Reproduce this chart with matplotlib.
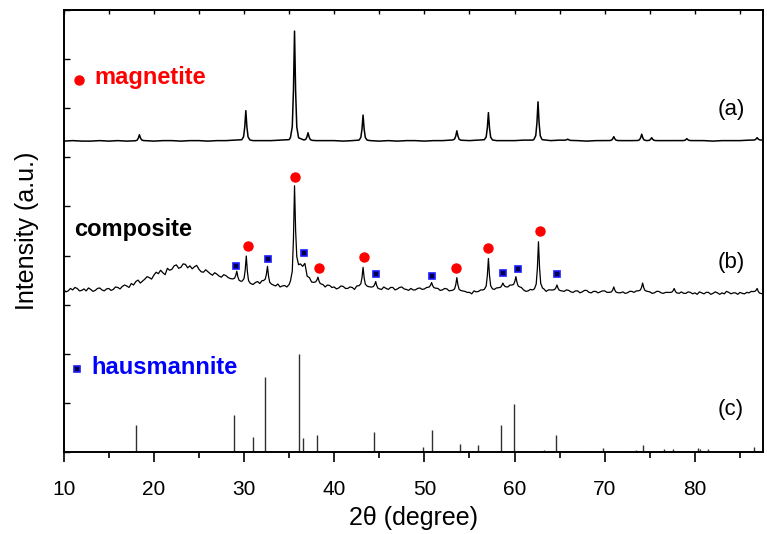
import numpy as np
import matplotlib
matplotlib.use('Agg')
import matplotlib.pyplot as plt
from matplotlib.ticker import MultipleLocator, NullFormatter

plt.rcParams['font.family'] = ['Liberation Sans', 'DejaVu Sans']

# (a) magnetite pattern: background every 1 deg from 10 to 87, then peaks (2theta, top)
bg_a = [6.33, 6.34, 6.33, 6.33, 6.34, 6.33, 6.34, 6.33, 6.34, 6.34,
        6.33, 6.34, 6.34, 6.33, 6.34, 6.34, 6.33, 6.34, 6.34, 6.35,
        6.35, 6.34, 6.34, 6.34, 6.35, 6.36, 6.36, 6.35, 6.34, 6.34,
        6.34, 6.33, 6.34, 6.35, 6.34, 6.33, 6.34, 6.33, 6.34, 6.34,
        6.33, 6.34, 6.34, 6.35, 6.34, 6.34, 6.35, 6.35, 6.34, 6.34,
        6.34, 6.35, 6.35, 6.35, 6.34, 6.35, 6.34, 6.34, 6.33, 6.34,
        6.34, 6.35, 6.34, 6.34, 6.35, 6.35, 6.34, 6.34, 6.34, 6.35,
        6.34, 6.34, 6.33, 6.34, 6.34, 6.34, 6.35, 6.35]
pk_a_pos = [18.4, 30.2, 35.6, 37.1, 43.2, 53.6, 57.1, 62.6, 65.9, 71.0, 74.1, 75.2, 79.1, 86.9]
pk_a_top = [6.46, 6.95, 8.57, 6.50, 6.86, 6.54, 6.91, 7.13, 6.37, 6.42, 6.47, 6.40, 6.38, 6.40]

# (b) composite pattern: background every 0.25 deg from 10 to 87.75
bg_b = [3.31, 3.26, 3.28, 3.33, 3.30, 3.35, 3.33, 3.28, 3.29, 3.32,
        3.28, 3.34, 3.31, 3.27, 3.29, 3.33, 3.34, 3.30, 3.28, 3.32,
        3.33, 3.29, 3.31, 3.36, 3.35, 3.32, 3.37, 3.40, 3.38, 3.35,
        3.43, 3.40, 3.47, 3.50, 3.44, 3.48, 3.52, 3.57, 3.55, 3.52,
        3.60, 3.66, 3.63, 3.70, 3.65, 3.61, 3.74, 3.70, 3.72, 3.79,
        3.81, 3.74, 3.76, 3.83, 3.82, 3.75, 3.79, 3.73, 3.77, 3.80,
        3.72, 3.67, 3.66, 3.71, 3.67, 3.63, 3.60, 3.65, 3.62, 3.58,
        3.56, 3.61, 3.59, 3.55, 3.53, 3.58, 3.56, 3.49, 3.50, 3.54,
        3.52, 3.50, 3.46, 3.43, 3.41, 3.45, 3.47, 3.43, 3.49, 3.52,
        3.55, 3.50, 3.43, 3.40, 3.38, 3.42, 3.36, 3.38, 3.39, 3.36,
        3.41, 3.38, 3.45, 3.60, 3.80, 3.83, 3.78, 3.84, 3.58, 3.55,
        3.46, 3.43, 3.48, 3.50, 3.45, 3.41, 3.36, 3.40, 3.39, 3.35,
        3.36, 3.32, 3.34, 3.38, 3.37, 3.33, 3.33, 3.36, 3.35, 3.31,
        3.38, 3.34, 3.35, 3.40, 3.40, 3.37, 3.36, 3.33, 3.42, 3.44,
        3.34, 3.31, 3.36, 3.33, 3.31, 3.35, 3.35, 3.30, 3.32, 3.35,
        3.36, 3.32, 3.31, 3.29, 3.33, 3.30, 3.30, 3.33, 3.34, 3.31,
        3.32, 3.35, 3.36, 3.38, 3.40, 3.36, 3.33, 3.29, 3.30, 3.33,
        3.32, 3.28, 3.29, 3.31, 3.33, 3.30, 3.31, 3.28, 3.27, 3.25,
        3.25, 3.22, 3.28, 3.26, 3.27, 3.30, 3.30, 3.27, 3.32, 3.34,
        3.29, 3.31, 3.34, 3.36, 3.38, 3.42, 3.33, 3.36, 3.40, 3.43,
        3.45, 3.43, 3.40, 3.35, 3.30, 3.27, 3.28, 3.31, 3.30, 3.27,
        3.35, 3.31, 3.29, 3.32, 3.27, 3.30, 3.30, 3.34, 3.33, 3.36,
        3.31, 3.28, 3.27, 3.30, 3.29, 3.26, 3.25, 3.28, 3.28, 3.24,
        3.26, 3.29, 3.29, 3.25, 3.24, 3.27, 3.27, 3.24, 3.26, 3.28,
        3.28, 3.25, 3.25, 3.27, 3.30, 3.26, 3.27, 3.24, 3.26, 3.23,
        3.24, 3.27, 3.27, 3.25, 3.28, 3.31, 3.32, 3.29, 3.30, 3.27,
        3.26, 3.23, 3.24, 3.27, 3.27, 3.24, 3.23, 3.25, 3.25, 3.22,
        3.29, 3.26, 3.24, 3.23, 3.26, 3.23, 3.23, 3.26, 3.25, 3.22,
        3.24, 3.21, 3.26, 3.24, 3.22, 3.25, 3.25, 3.21, 3.23, 3.26,
        3.24, 3.21, 3.24, 3.22, 3.27, 3.25, 3.22, 3.24, 3.24, 3.21,
        3.25, 3.23, 3.22, 3.25, 3.24, 3.27, 3.27, 3.24, 3.24, 3.21, 3.22, 3.25]
pk_b_pos = [29.2, 30.25, 32.6, 35.6, 38.2, 43.2, 44.6, 50.8, 53.6, 57.1, 58.7, 60.15, 62.65, 64.7, 71.0, 74.2, 77.7, 86.9]
pk_b_top = [3.68, 3.99, 3.78, 5.42, 3.56, 3.76, 3.47, 3.45, 3.55, 3.94, 3.44, 3.57, 4.28, 3.40, 3.36, 3.44, 3.33, 3.33]

# (c) hausmannite reference sticks
st_pos = [18.0, 28.9, 31.0, 32.3, 36.1, 36.5, 38.1, 44.4, 49.9, 50.85, 53.9, 56.0, 58.5, 59.9,
          60.7, 63.3, 64.6, 65.4, 67.8, 69.8, 72.4, 73.5, 74.2, 76.6, 77.6, 80.3, 80.6, 81.5, 85.9, 86.5]
st_h = [0.55, 0.75, 0.31, 1.52, 2.00, 0.28, 0.35, 0.41, 0.10, 0.44, 0.17, 0.14, 0.55, 0.98,
        0.02, 0.05, 0.35, 0.02, 0.03, 0.08, 0.02, 0.04, 0.15, 0.07, 0.07, 0.08, 0.06, 0.07, 0.03, 0.10]

# phase markers above curve (b)
mag_x = [30.4, 35.6, 38.3, 43.3, 53.5, 57.1, 62.8]
mag_y = [4.20, 5.59, 3.74, 3.98, 3.75, 4.15, 4.49]
hau_x = [29.1, 32.7, 36.6, 44.6, 50.8, 58.7, 60.4, 64.7]
hau_y = [3.79, 3.92, 4.05, 3.62, 3.59, 3.64, 3.73, 3.62]


def build(bgx, bgy, ppos, ptop):
    # peak outline shape around each listed peak
    off = np.array([-0.45, -0.25, -0.12, 0.0, 0.12, 0.25, 0.45])
    frac = np.array([0.02, 0.12, 0.45, 1.0, 0.45, 0.12, 0.02])
    bgx = np.asarray(bgx)
    bgy = np.asarray(bgy)
    keep = np.ones(len(bgx), bool)
    for p in ppos:
        keep &= np.abs(bgx - p) > 0.5
    kx, ky = bgx[keep], bgy[keep]
    xs, ys = list(kx), list(ky)
    for p, t in zip(ppos, ptop):
        bl = np.interp(p - 0.5, kx, ky)
        br = np.interp(p + 0.5, kx, ky)
        for o, f in zip(off, frac):
            b = bl if o < 0 else br
            if o == 0:
                b = 0.5 * (bl + br)
            xs.append(p + o)
            ys.append(b + f * (t - b))
    order = np.argsort(xs)
    return np.array(xs)[order], np.array(ys)[order]


xa, ya = build(np.arange(10, 88, 1.0), bg_a, pk_a_pos, pk_a_top)
xb, yb = build(np.arange(10, 88, 0.25), bg_b, pk_b_pos, pk_b_top)

fig = plt.figure(figsize=(7.67, 5.34), dpi=100)
ax = fig.add_axes([0.083, 0.1536, 0.9124, 0.8277])

ax.plot(xa, ya, color='black', lw=1.1)
ax.plot(xb, yb, color='black', lw=0.9)
ax.vlines(st_pos, 0, st_h, color='#303030', lw=1.0)

ax.plot(mag_x, mag_y, 'o', color='red', ms=6.5, mec='red')
ax.plot(hau_x, hau_y, 's', ms=4.5, mfc='#000044', mec='#1a1aff', mew=1.2)

# legend-like labels
ax.plot([11.7], [7.58], 'o', color='red', ms=6.5)
ax.text(13.4, 7.62, 'magnetite', color='red', fontsize=17, fontweight='bold', va='center')
ax.text(11.2, 4.52, 'composite', color='black', fontsize=17, fontweight='bold', va='center')
ax.plot([11.5], [1.69], 's', ms=4.0, mfc='#000044', mec='#1a1aff', mew=1.2)
ax.text(13.1, 1.73, 'hausmannite', color='blue', fontsize=17, fontweight='bold', va='center')

ax.text(84.0, 6.97, '(a)', fontsize=16, ha='center', va='center')
ax.text(84.0, 3.85, '(b)', fontsize=16, ha='center', va='center')
ax.text(84.0, 0.86, '(c)', fontsize=16, ha='center', va='center')

ax.set_xlim(10, 87.6)
ax.set_ylim(0, 9)
ax.xaxis.set_major_locator(MultipleLocator(10))
ax.xaxis.set_minor_locator(MultipleLocator(5))
ax.yaxis.set_major_locator(MultipleLocator(1))
ax.yaxis.set_major_formatter(NullFormatter())
ax.tick_params(axis='x', which='major', direction='out', length=7, width=1.2, pad=13, labelsize=15)
ax.tick_params(axis='x', which='minor', direction='out', length=4, width=1.2)
ax.tick_params(axis='y', which='major', direction='in', length=4, width=1.0)

top = ax.secondary_xaxis('top')
top.xaxis.set_major_locator(MultipleLocator(5))
top.xaxis.set_major_formatter(NullFormatter())
top.tick_params(direction='in', length=3, width=1.0)

for s in ax.spines.values():
    s.set_linewidth(1.4)
top.spines['top'].set_linewidth(1.4)

ax.set_xlabel('2θ (degree)', fontsize=18, labelpad=5)
ax.set_ylabel('Intensity (a.u.)', fontsize=18, labelpad=14)

fig.savefig('out.png', dpi=100)
